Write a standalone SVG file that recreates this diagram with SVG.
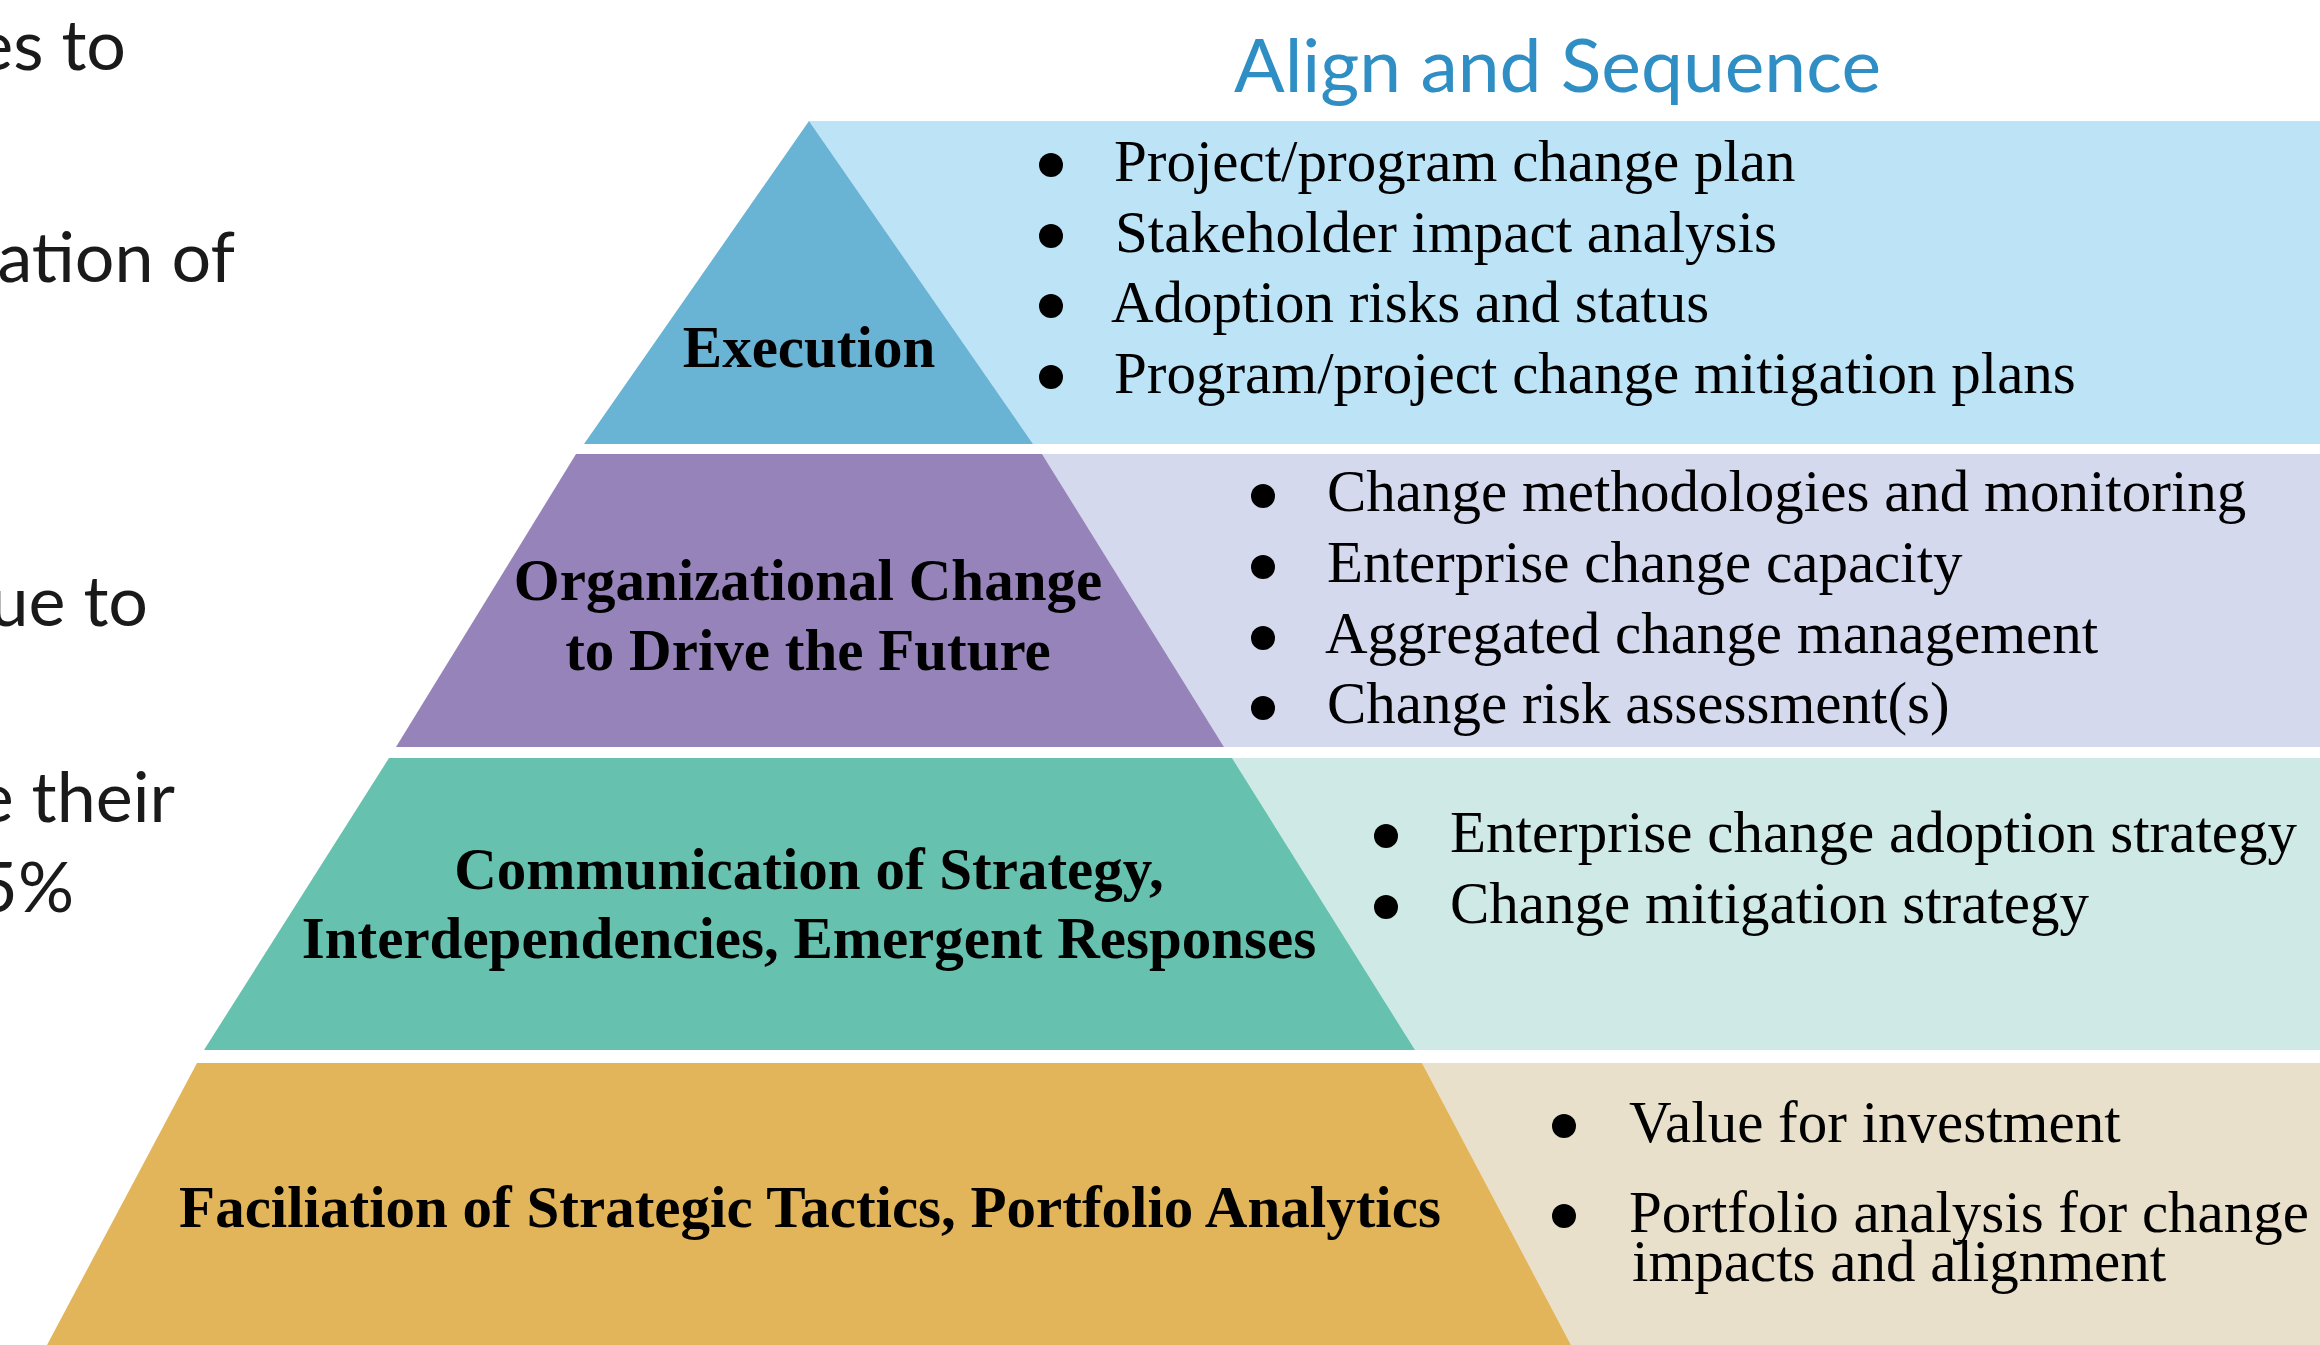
<svg xmlns="http://www.w3.org/2000/svg" width="2320" height="1345" viewBox="0 0 2320 1345">
  <style>
    .side { font-family: Lato, "Open Sans", sans-serif; font-size: 70px; fill: #1a1a1a; }
    .title { font-family: Lato, "Open Sans", sans-serif; font-size: 74px; fill: #2f8fc4; }
    .label { font-family: "Liberation Serif", "Times New Roman", serif; font-size: 59px; font-weight: bold; fill: #000; text-anchor: middle; }
    .item { font-family: "Liberation Serif", "Times New Roman", serif; font-size: 59px; fill: #000; }
    .dot { fill: #000; }
  </style>
  <rect width="2320" height="1345" fill="#ffffff"/>

  <!-- cut-off text from the neighbouring column -->
  <g id="side-text">
    <text class="side" x="126" y="70" text-anchor="end">es to</text>
    <text class="side" x="235" y="282" text-anchor="end">ation of</text>
    <text class="side" x="148" y="626" text-anchor="end">ue to</text>
    <text class="side" x="175" y="822" text-anchor="end">e their</text>
    <text class="side" x="74" y="912" text-anchor="end">5%</text>
  </g>

  <g id="title">
    <text class="title" x="1234" y="92" textLength="647" lengthAdjust="spacingAndGlyphs">Align and Sequence</text>
  </g>

  <!-- tier 1: Execution -->
  <g id="tier-execution">
    <polygon points="809,121 2320,121 2320,444 1033,444" fill="#bde3f7"/>
    <polygon points="809,121 1033,444 584,444" fill="#69b3d5"/>
    <text class="label" x="809" y="367">Execution</text>
    <circle class="dot" cx="1051" cy="165" r="12"/>
    <circle class="dot" cx="1051" cy="236" r="12"/>
    <circle class="dot" cx="1051" cy="306" r="12"/>
    <circle class="dot" cx="1051" cy="377" r="12"/>
    <text class="item" x="1114" y="181">Project/program change plan</text>
    <text class="item" x="1115" y="252">Stakeholder impact analysis</text>
    <text class="item" x="1111" y="322">Adoption risks and status</text>
    <text class="item" x="1114" y="393">Program/project change mitigation plans</text>
  </g>

  <!-- tier 2: Organizational Change -->
  <g id="tier-organizational">
    <polygon points="1042,454 2320,454 2320,747 1224,747" fill="#d5d9ee"/>
    <polygon points="576,454 1042,454 1224,747 396,747" fill="#9683b9"/>
    <text class="label" x="808" y="600">Organizational Change</text>
    <text class="label" x="808" y="670">to Drive the Future</text>
    <circle class="dot" cx="1263" cy="496" r="12"/>
    <circle class="dot" cx="1263" cy="567" r="12"/>
    <circle class="dot" cx="1263" cy="638" r="12"/>
    <circle class="dot" cx="1263" cy="708" r="12"/>
    <text class="item" x="1327" y="511">Change methodologies and monitoring</text>
    <text class="item" x="1327" y="582">Enterprise change capacity</text>
    <text class="item" x="1325" y="653">Aggregated change management</text>
    <text class="item" x="1327" y="723">Change risk assessment(s)</text>
  </g>

  <!-- tier 3: Communication -->
  <g id="tier-communication">
    <polygon points="1232,758 2320,758 2320,1050 1415,1050" fill="#cfeae6"/>
    <polygon points="389,758 1232,758 1415,1050 204,1050" fill="#66c1ae"/>
    <text class="label" x="809" y="889">Communication of Strategy,</text>
    <text class="label" x="809" y="958">Interdependencies, Emergent Responses</text>
    <circle class="dot" cx="1386" cy="836" r="12"/>
    <circle class="dot" cx="1386" cy="907" r="12"/>
    <text class="item" x="1450" y="852">Enterprise change adoption strategy</text>
    <text class="item" x="1450" y="923">Change mitigation strategy</text>
  </g>

  <!-- tier 4: Faciliation -->
  <g id="tier-faciliation">
    <polygon points="1422,1063 2320,1063 2320,1345 1571,1345" fill="#e8e0cb"/>
    <polygon points="197,1063 1422,1063 1571,1345 47,1345" fill="#e3b55a"/>
    <text class="label" x="810" y="1227">Faciliation of Strategic Tactics, Portfolio Analytics</text>
    <circle class="dot" cx="1564" cy="1126" r="12"/>
    <circle class="dot" cx="1564" cy="1216" r="12"/>
    <text class="item" x="1629" y="1142">Value for investment</text>
    <text class="item" x="1629" y="1232">Portfolio analysis for change</text>
    <text class="item" x="1632" y="1281">impacts and alignment</text>
  </g>

  <g id="connectors"/>
</svg>
